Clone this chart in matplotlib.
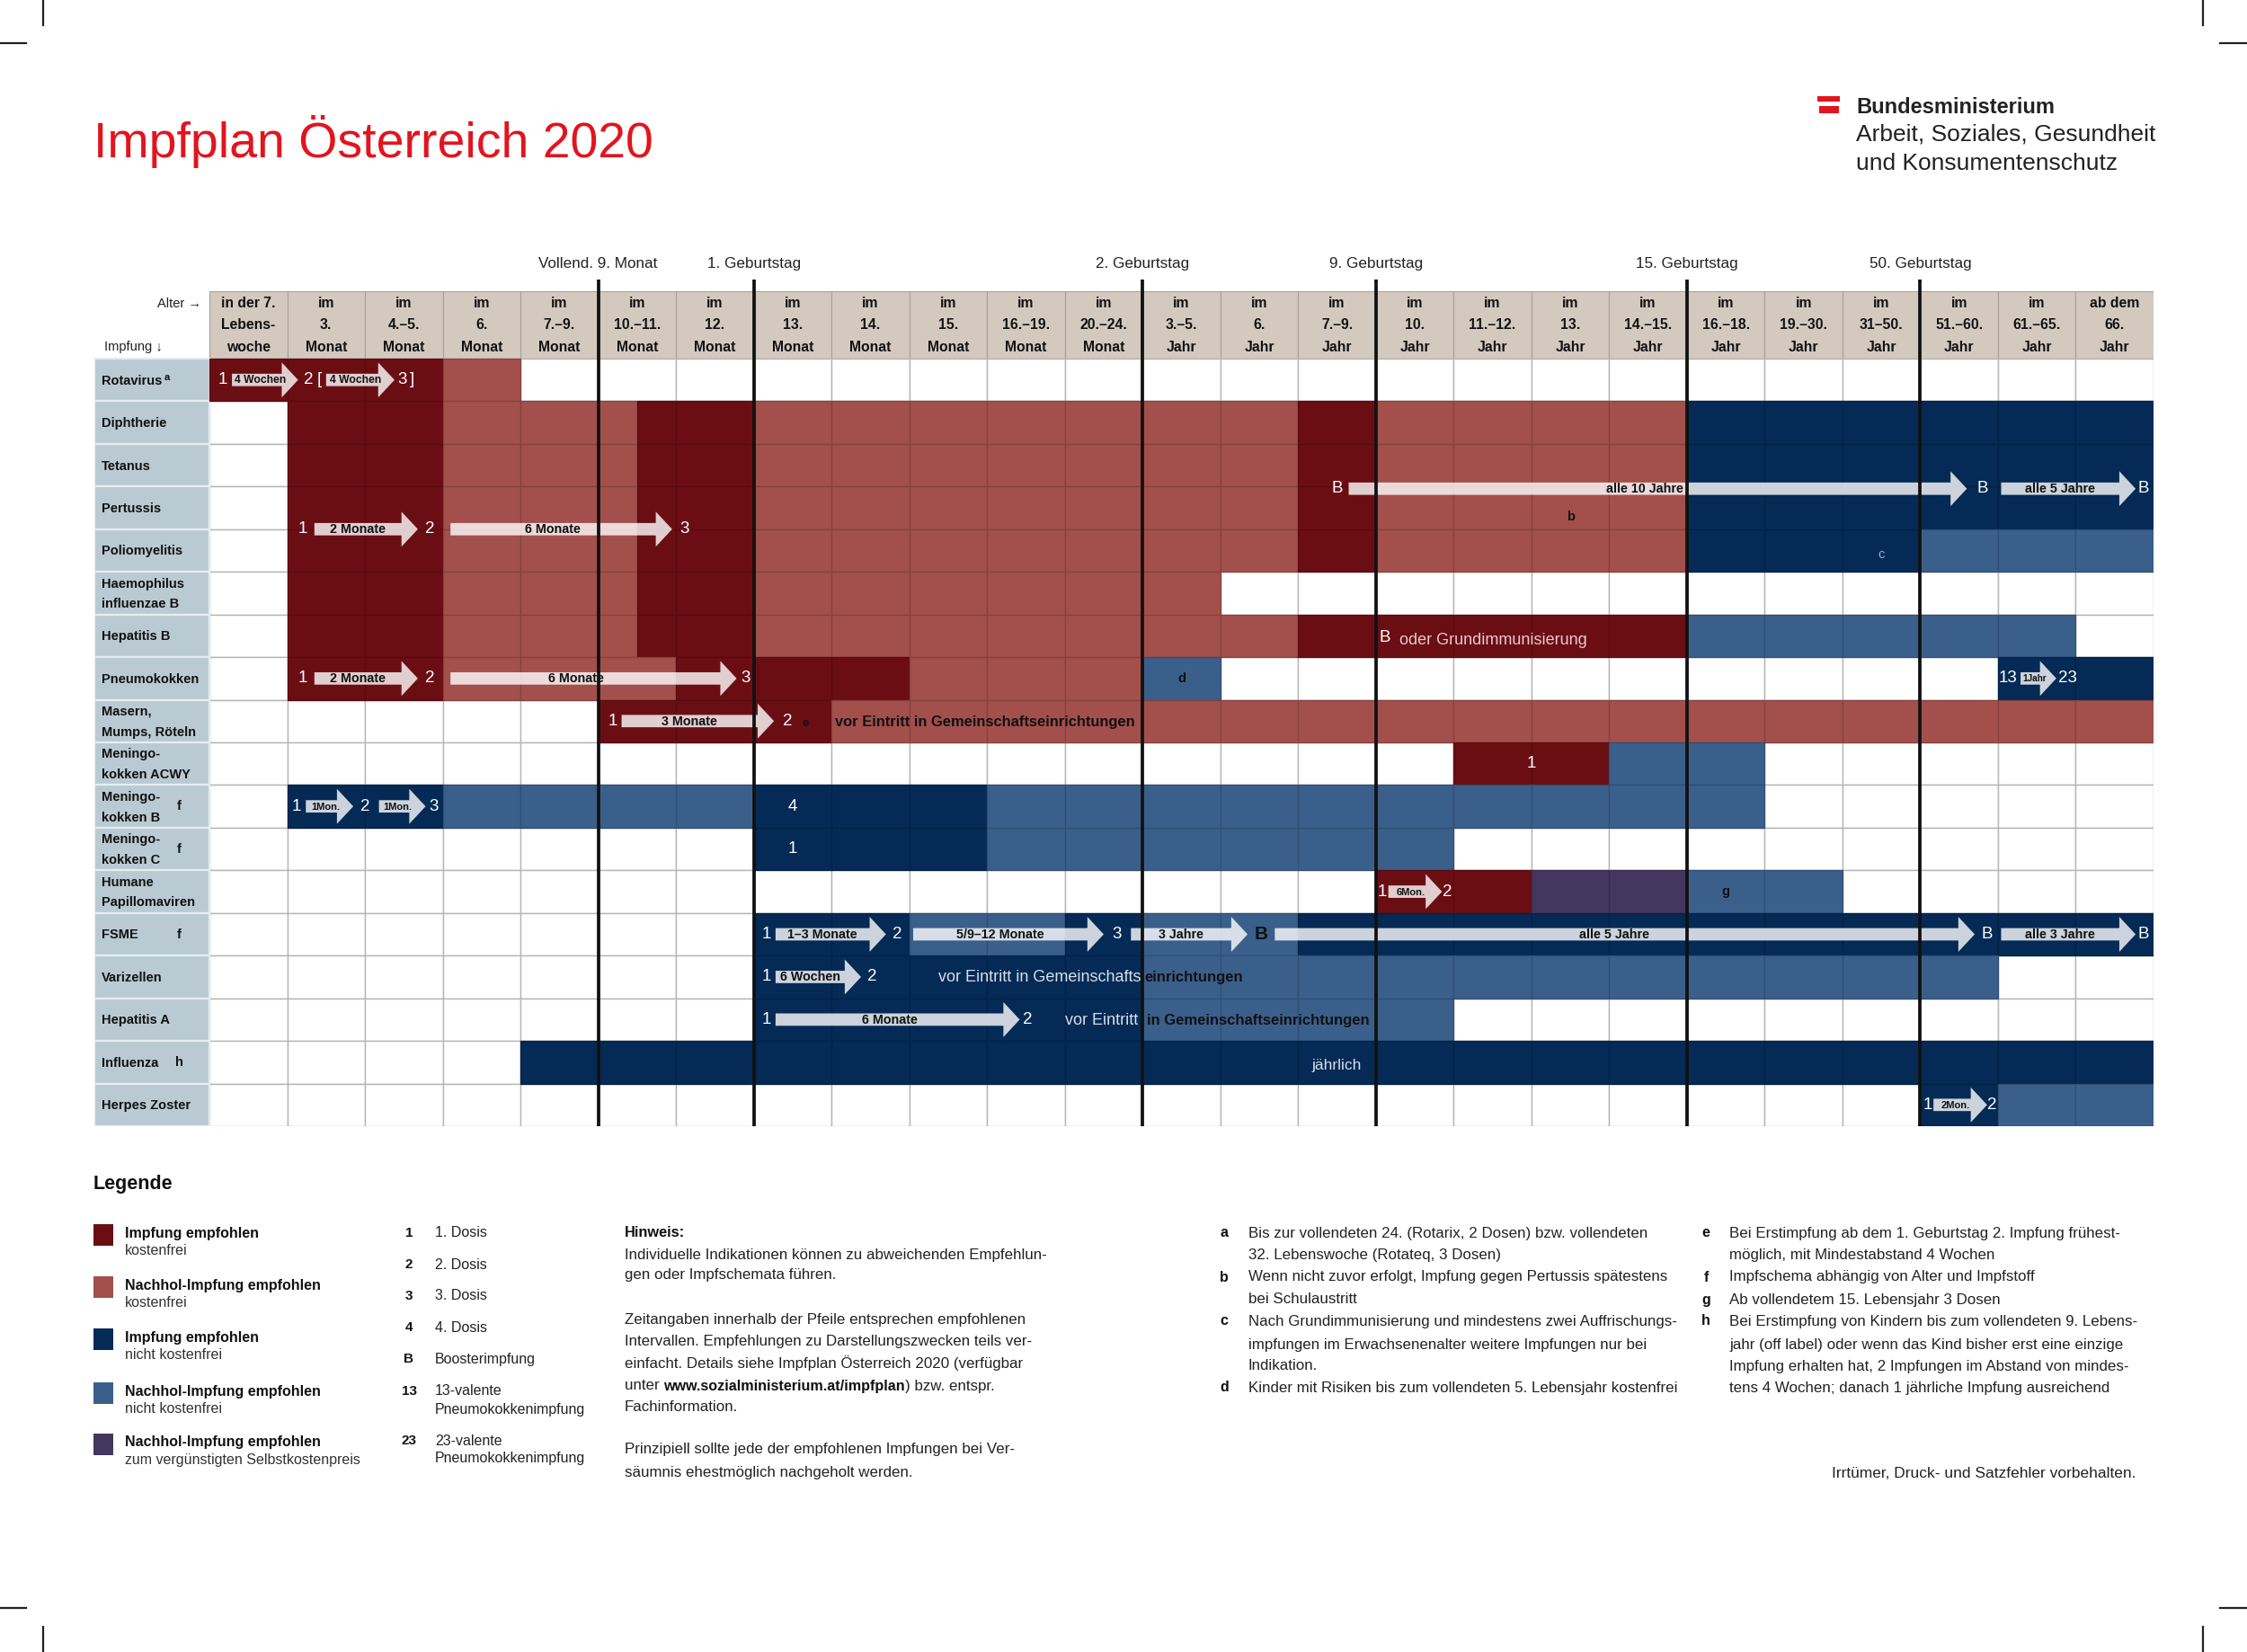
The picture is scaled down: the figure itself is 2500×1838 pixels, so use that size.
import numpy as np
import matplotlib
matplotlib.use("Agg")
import matplotlib.pyplot as plt
from matplotlib.patches import Rectangle, Polygon
from matplotlib.lines import Line2D
from matplotlib.text import Annotation
from matplotlib import font_manager as fm
from matplotlib.colors import to_rgb

# ------------------------------------------------------------------ data
age_groups = [
    ("in der 7.", "Lebens-", "woche"), ("im", "3.", "Monat"), ("im", "4.–5.", "Monat"),
    ("im", "6.", "Monat"), ("im", "7.–9.", "Monat"), ("im", "10.–11.", "Monat"),
    ("im", "12.", "Monat"), ("im", "13.", "Monat"), ("im", "14.", "Monat"),
    ("im", "15.", "Monat"), ("im", "16.–19.", "Monat"), ("im", "20.–24.", "Monat"),
    ("im", "3.–5.", "Jahr"), ("im", "6.", "Jahr"), ("im", "7.–9.", "Jahr"),
    ("im", "10.", "Jahr"), ("im", "11.–12.", "Jahr"), ("im", "13.", "Jahr"),
    ("im", "14.–15.", "Jahr"), ("im", "16.–18.", "Jahr"), ("im", "19.–30.", "Jahr"),
    ("im", "31–50.", "Jahr"), ("im", "51.–60.", "Jahr"), ("im", "61.–65.", "Jahr"),
    ("ab dem", "66.", "Jahr"),
]
milestone_pos = [5, 7, 12, 15, 19, 22]
milestone_labels = ["Vollend. 9. Monat", "1. Geburtstag", "2. Geburtstag",
                    "9. Geburtstag", "15. Geburtstag", "50. Geburtstag"]

vaccines = ["Rotavirus", "Diphtherie", "Tetanus", "Pertussis", "Poliomyelitis",
            "Haemophilus\ninfluenzae B", "Hepatitis B", "Pneumokokken",
            "Masern,\nMumps, Röteln", "Meningo-\nkokken ACWY", "Meningo-\nkokken B",
            "Meningo-\nkokken C", "Humane\nPapillomaviren", "FSME", "Varizellen",
            "Hepatitis A", "Influenza", "Herpes Zoster"]
vaccine_notes = ["a", "", "", "", "", "", "", "", "", "", "f", "f", "", "f", "", "", "h", ""]

# R = Impfung empfohlen kostenfrei, r = Nachhol kostenfrei,
# B = Impfung empfohlen nicht kostenfrei, b = Nachhol nicht kostenfrei,
# p = Nachhol zum vergünstigten Selbstkostenpreis
schedule = [
    [(0, 3, "R"), (3, 4, "r")],
    [(1, 3, "R"), (3, 5.5, "r"), (5.5, 7, "R"), (7, 14, "r"), (14, 15, "R"), (15, 19, "r"), (19, 25, "B")],
    [(1, 3, "R"), (3, 5.5, "r"), (5.5, 7, "R"), (7, 14, "r"), (14, 15, "R"), (15, 19, "r"), (19, 25, "B")],
    [(1, 3, "R"), (3, 5.5, "r"), (5.5, 7, "R"), (7, 14, "r"), (14, 15, "R"), (15, 19, "r"), (19, 25, "B")],
    [(1, 3, "R"), (3, 5.5, "r"), (5.5, 7, "R"), (7, 14, "r"), (14, 15, "R"), (15, 19, "r"), (19, 22, "B"), (22, 25, "b")],
    [(1, 3, "R"), (3, 5.5, "r"), (5.5, 7, "R"), (7, 13, "r")],
    [(1, 3, "R"), (3, 5.5, "r"), (5.5, 7, "R"), (7, 14, "r"), (14, 19, "R"), (19, 24, "b")],
    [(1, 3, "R"), (3, 6, "r"), (6, 9, "R"), (9, 12, "r"), (12, 13, "b"), (23, 25, "B")],
    [(5, 8, "R"), (8, 25, "r")],
    [(16, 18, "R"), (18, 20, "b")],
    [(1, 3, "B"), (3, 7, "b"), (7, 10, "B"), (10, 20, "b")],
    [(7, 10, "B"), (10, 16, "b")],
    [(15, 17, "R"), (17, 19, "p"), (19, 21, "b")],
    [(7, 9, "B"), (9, 11, "b"), (11, 12, "B"), (12, 14, "b"), (14, 25, "B")],
    [(7, 12, "B"), (12, 23, "b")],
    [(7, 12, "B"), (12, 16, "b")],
    [(4, 25, "B")],
    [(22, 23, "B"), (23, 25, "b")],
]

# interval arrows: (row position, start, end, label)
arrows = [
    (0.5, 0.29, 1.14, "4 Wochen"), (0.5, 1.50, 2.38, "4 Wochen"),
    (4.0, 1.35, 2.68, "2 Monate"), (4.0, 3.10, 5.95, "6 Monate"),
    (3.05, 14.65, 22.60, "alle 10 Jahre"), (3.05, 23.04, 24.77, "alle 5 Jahre"),
    (7.5, 1.35, 2.68, "2 Monate"), (7.5, 3.10, 6.78, "6 Monate"), (7.5, 23.29, 23.75, "1Jahr"),
    (8.5, 5.30, 7.26, "3 Monate"),
    (10.5, 1.24, 1.85, "1Mon."), (10.5, 2.18, 2.78, "1Mon."),
    (12.5, 15.16, 15.85, "6Mon."),
    (13.5, 7.28, 8.70, "1–3 Monate"), (13.5, 9.05, 11.50, "5/9–12 Monate"),
    (13.5, 11.85, 13.35, "3 Jahre"), (13.5, 13.70, 22.70, "alle 5 Jahre"),
    (13.5, 23.04, 24.77, "alle 3 Jahre"),
    (14.5, 7.28, 8.38, "6 Wochen"),
    (15.5, 7.28, 10.42, "6 Monate"),
    (17.5, 22.17, 22.86, "2Mon."),
]
arrow_label_x = {4: (18.95, "right"), 7: (4.72, "center"), 16: (18.06, "center")}

# dose markers: (row position, x, text)
dose_marks = [
    (0.5, 0.17, "1"), (0.5, 1.28, "2"), (0.5, 1.41, "["), (0.5, 2.48, "3"), (0.5, 2.61, "]"),
    (4.0, 1.20, "1"), (4.0, 2.83, "2"), (4.0, 6.11, "3"),
    (3.05, 14.50, "B"), (3.05, 22.80, "B"), (3.05, 24.87, "B"),
    (6.55, 15.12, "B"),
    (7.5, 1.20, "1"), (7.5, 2.83, "2"), (7.5, 6.90, "3"), (7.5, 23.13, "13"), (7.5, 23.90, "23"),
    (8.5, 5.19, "1"), (8.5, 7.43, "2"),
    (9.5, 17.00, "1"),
    (10.5, 1.12, "1"), (10.5, 2.00, "2"), (10.5, 2.88, "3"), (10.5, 7.50, "4"),
    (11.5, 7.50, "1"),
    (12.5, 15.08, "1"), (12.5, 15.92, "2"),
    (13.5, 7.16, "1"), (13.5, 8.84, "2"), (13.5, 11.67, "3"), (13.5, 22.86, "B"), (13.5, 24.87, "B"),
    (14.5, 7.16, "1"), (14.5, 8.52, "2"),
    (15.5, 7.16, "1"), (15.5, 10.52, "2"),
    (17.5, 22.10, "1"), (17.5, 22.92, "2"),
]
# bold black markers inside the table: (x, row position, text, size)
black_marks = [(17.5, 3.72, "b", 10.5), (12.5, 7.5, "d", 10.5), (7.66, 8.55, "e", 9.5),
               (19.5, 12.5, "g", 10.5), (13.52, 13.5, "B", 15)]

legend_items = [("R", "Impfung empfohlen", "kostenfrei"),
                ("r", "Nachhol-Impfung empfohlen", "kostenfrei"),
                ("B", "Impfung empfohlen", "nicht kostenfrei"),
                ("b", "Nachhol-Impfung empfohlen", "nicht kostenfrei"),
                ("p", "Nachhol-Impfung empfohlen", "zum vergünstigten Selbstkostenpreis")]
symbol_keys = ["1", "2", "3", "4", "B", "13", "23"]
symbol_texts = ["1. Dosis", "2. Dosis", "3. Dosis", "4. Dosis", "Boosterimpfung",
                "13-valente\nPneumokokkenimpfung", "23-valente\nPneumokokkenimpfung"]
hinweis_lines = ["Individuelle Indikationen können zu abweichenden Empfehlun-",
                 "gen oder Impfschemata führen.",
                 "Zeitangaben innerhalb der Pfeile entsprechen empfohlenen",
                 "Intervallen. Empfehlungen zu Darstellungszwecken teils ver-",
                 "einfacht. Details siehe Impfplan Österreich 2020 (verfügbar",
                 None,
                 "Fachinformation.",
                 "Prinzipiell sollte jede der empfohlenen Impfungen bei Ver-",
                 "säumnis ehestmöglich nachgeholt werden."]
footnotes_left = [("a", ["Bis zur vollendeten 24. (Rotarix, 2 Dosen) bzw. vollendeten",
                         "32. Lebenswoche (Rotateq, 3 Dosen)"]),
                  ("b", ["Wenn nicht zuvor erfolgt, Impfung gegen Pertussis spätestens",
                         "bei Schulaustritt"]),
                  ("c", ["Nach Grundimmunisierung und mindestens zwei Auffrischungs-",
                         "impfungen im Erwachsenenalter weitere Impfungen nur bei",
                         "Indikation."]),
                  ("d", ["Kinder mit Risiken bis zum vollendeten 5. Lebensjahr kostenfrei"])]
footnotes_right = [("e", ["Bei Erstimpfung ab dem 1. Geburtstag 2. Impfung frühest-",
                          "möglich, mit Mindestabstand 4 Wochen"]),
                   ("f", ["Impfschema abhängig von Alter und Impfstoff"]),
                   ("g", ["Ab vollendetem 15. Lebensjahr 3 Dosen"]),
                   ("h", ["Bei Erstimpfung von Kindern bis zum vollendeten 9. Lebens-",
                          "jahr (off label) oder wenn das Kind bisher erst eine einzige",
                          "Impfung erhalten hat, 2 Impfungen im Abstand von mindes-",
                          "tens 4 Wochen; danach 1 jährliche Impfung ausreichend"])]

# ------------------------------------------------------------------ style
avail = {f.name for f in fm.fontManager.ttflist}
BASE = "Liberation Sans" if "Liberation Sans" in avail else "DejaVu Sans"
NARROW = "Liberation Sans Narrow" if "Liberation Sans Narrow" in avail else BASE
NS = 1.15 if NARROW != BASE else 1.0
plt.rcParams["font.family"] = [BASE, "DejaVu Sans"]

COLORS = {"R": "#6B0E14", "r": "#A34F4B", "B": "#042A55", "b": "#3B5F8B", "p": "#44365F"}
LABEL_BG = "#B9CAD3"
HEADER_BG = "#D4C9BF"
GRID = "#B5B5B5"
TITLE_RED = "#E2141E"
LIGHT_TXT = "#D8DEEA"
TXT = "#222222"


def darker(c, f=0.82):
    r, g, b = to_rgb(c)
    return (r * f, g * f, b * f)


W_PX, H_PX = 2500, 1838
fig = plt.figure(figsize=(25, 18.38), dpi=100)
fig.patch.set_facecolor("white")


def fx(x):
    return x / W_PX


def fy(y):
    return 1 - y / H_PX


# table axes: x in age-column units, y in vaccine-row units
TAB_L, TAB_R, GRID_L = 105, 2396, 233
ROW_TOP, ROW_BOT = 399, 1253
ncol, nrow = len(age_groups), len(vaccines)
cw = (TAB_R - GRID_L) / ncol
rh = (ROW_BOT - ROW_TOP) / nrow
Y_TOP = -2.6
X_LEFT = (TAB_L - GRID_L) / cw
ax = fig.add_axes([fx(TAB_L), fy(ROW_BOT), (TAB_R - TAB_L) / W_PX,
                   (ROW_BOT - (ROW_TOP + Y_TOP * rh)) / H_PX])
ax.set_xlim(X_LEFT, ncol)
ax.set_ylim(nrow, Y_TOP)
ax.axis("off")

HDR = 1.58
# header
for c, lines in enumerate(age_groups):
    ax.add_patch(Rectangle((c, -HDR), 1, HDR, fc=HEADER_BG, ec="#A7A19B", lw=0.8, zorder=1))
    for k, t in enumerate(lines):
        ax.text(c + 0.5, [-1.29, -0.78, -0.27][k], t, ha="center", va="center",
                fontsize=11.3 * NS, fontweight="bold", family=NARROW, color="#111", zorder=3)
ax.text(-0.1, -1.29, "Alter →", ha="right", va="center", fontsize=10.5, color=TXT)
ax.text(X_LEFT + 0.13, -0.27, "Impfung ↓", ha="left", va="center", fontsize=10.5, color=TXT)

# white grid
for r in range(nrow):
    for c in range(ncol):
        ax.add_patch(Rectangle((c, r), 1, 1, fc="white", ec=GRID, lw=1.0, zorder=1))
# coloured schedule
for r, segs in enumerate(schedule):
    for (s, e, k) in segs:
        col = COLORS[k]
        for c in range(int(np.floor(s)), int(np.ceil(e))):
            a, b = max(c, s), min(c + 1, e)
            ax.add_patch(Rectangle((a, r), b - a, 1, fc=col, ec=darker(col), lw=0.9, zorder=2))

# row labels
for r, name in enumerate(vaccines):
    ax.add_patch(Rectangle((X_LEFT, r), -X_LEFT, 1, fc=LABEL_BG, ec="#E6EDF1", lw=1.6, zorder=1))
    parts = name.split("\n")
    ys = [r + 0.52] if len(parts) == 1 else [r + 0.28, r + 0.76]
    txt = None
    for p, yy in zip(parts, ys):
        txt = ax.text(X_LEFT + 0.09, yy, p, ha="left", va="center", fontsize=10.5 * NS,
                      fontweight="bold", family=NARROW, color="#111", zorder=3)
    note = vaccine_notes[r]
    if note == "a":
        ax.annotate(note, xy=(1, 1), xycoords=txt, xytext=(2, 1), textcoords="offset points",
                    ha="left", va="top", fontsize=8, fontweight="bold", color="#111", zorder=3)
    elif note:
        ax.text(-0.39, r + 0.5, note, ha="center", va="center", fontsize=10.5,
                fontweight="bold", color="#111", zorder=3)

# arrows
HB, HH, HL = 0.145, 0.41, 0.21
for i, (y, x0, x1, lab) in enumerate(arrows):
    pts = [(x0, y - HB), (x1 - HL, y - HB), (x1 - HL, y - HH), (x1, y),
           (x1 - HL, y + HH), (x1 - HL, y + HB), (x0, y + HB)]
    ax.add_patch(Polygon(pts, closed=True, fc="white", alpha=0.8, ec="none", zorder=4))
    length = x1 - x0
    if length < 0.5:
        fs, shift = 7.2, 0.06
    elif length < 0.75:
        fs, shift = 8.0, 0.05
    elif length < 1.0:
        fs, shift = 8.7, 0.04
    else:
        fs, shift = 10.3, 0.0
    lx, ha = arrow_label_x.get(i, ((x0 + x1 - HL) / 2 + shift, "center"))
    ax.text(lx, y + 0.01, lab, ha=ha, va="center", fontsize=fs * NS, fontweight="bold",
            family=NARROW, color="#111", zorder=5)

# dose numbers
for (y, x, t) in dose_marks:
    ax.text(x, y, t, ha="center", va="center", fontsize=13.5 * NS, family=NARROW,
            color="white", zorder=5)
for (x, y, t, s) in black_marks:
    ax.text(x, y, t, ha="center", va="center", fontsize=s, fontweight="bold",
            color="#111", zorder=5)
ax.text(21.5, 4.6, "c", ha="center", va="center", fontsize=10.5, color="#9DB1CE", zorder=5)

# text notes inside table
ax.text(8.04, 8.52, "vor Eintritt in Gemeinschaftseinrichtungen", ha="left", va="center",
        fontsize=11.9 * NS, fontweight="bold", family=NARROW, color="#111", zorder=5)
ax.text(11.98, 14.52, "vor Eintritt in Gemeinschafts", ha="right", va="center",
        fontsize=13, color=LIGHT_TXT, zorder=5)
ax.text(12.02, 14.52, "einrichtungen", ha="left", va="center", fontsize=12 * NS,
        fontweight="bold", family=NARROW, color="#111", zorder=5)
ax.text(11.94, 15.52, "vor Eintritt", ha="right", va="center", fontsize=13,
        color=LIGHT_TXT, zorder=5)
ax.text(12.06, 15.52, "in Gemeinschaftseinrichtungen", ha="left", va="center",
        fontsize=12 * NS, fontweight="bold", family=NARROW, color="#111", zorder=5)
ax.text(15.30, 6.6, "oder Grundimmunisierung", ha="left", va="center", fontsize=13,
        color="#E8CACA", zorder=5)
ax.text(14.5, 16.58, "jährlich", ha="center", va="center", fontsize=12.5,
        color=LIGHT_TXT, zorder=5)

# milestone lines
ax.vlines(milestone_pos, -1.86, nrow, colors="#111111", lw=2.7, zorder=6)
for x, lab in zip(milestone_pos, milestone_labels):
    ax.text(x, -2.23, lab, ha="center", va="center", fontsize=12.3, color=TXT, zorder=6)

# ------------------------------------------------------------------ page elements
fig.text(fx(104), fy(175), "Impfplan Österreich 2020", fontsize=40, color=TITLE_RED,
         ha="left", va="baseline")

fig.add_artist(Rectangle((fx(2022), fy(113)), 25 / W_PX, 6 / H_PX, transform=fig.transFigure,
                         fc=TITLE_RED, ec="none"))
fig.add_artist(Rectangle((fx(2024), fy(126)), 22 / W_PX, 8 / H_PX, transform=fig.transFigure,
                         fc=TITLE_RED, ec="none"))
fig.text(fx(2065), fy(126), "Bundesministerium", fontsize=17, fontweight="bold",
         color=TXT, ha="left", va="baseline")
fig.text(fx(2065), fy(157), "Arbeit, Soziales, Gesundheit", fontsize=19, color=TXT,
         ha="left", va="baseline")
fig.text(fx(2065), fy(189), "und Konsumentenschutz", fontsize=19, color=TXT,
         ha="left", va="baseline")

# crop marks
for (xa, ya, xb, yb) in [(48, 0, 48, 28), (0, 48, 29, 48), (2451, 0, 2451, 28),
                         (2470, 48, 2500, 48), (48, 1810, 48, 1838), (0, 1789, 29, 1789),
                         (2451, 1810, 2451, 1838), (2470, 1789, 2500, 1789)]:
    fig.add_artist(Line2D([fx(xa), fx(xb)], [fy(ya), fy(yb)], transform=fig.transFigure,
                          color=TXT, lw=1.6))

# legend
fig.text(fx(104), fy(1318), "Legende", fontsize=15.5, fontweight="bold", color="#111",
         ha="left", va="center")
leg_y = [1372, 1430, 1488, 1548, 1605]
for (k, t1, t2), yy in zip(legend_items, leg_y):
    fig.add_artist(Rectangle((fx(104), fy(yy + 14)), 22 / W_PX, 24 / H_PX,
                             transform=fig.transFigure, fc=COLORS[k], ec="none"))
    fig.text(fx(139), fy(yy), t1, fontsize=11.5, fontweight="bold", color="#111",
             ha="left", va="center")
    fig.text(fx(139), fy(yy + 20), t2, fontsize=11.5, color="#333", ha="left", va="center")

sym_y = [1372, 1407, 1442, 1477, 1512, 1548, 1603]
for key, txt, yy in zip(symbol_keys, symbol_texts, sym_y):
    fig.text(fx(455), fy(yy), key, fontsize=11, fontweight="bold", color="#111",
             ha="center", va="center")
    for j, line in enumerate(txt.split("\n")):
        fig.text(fx(484), fy(yy + 20 * j), line, fontsize=11.5, color=TXT,
                 ha="left", va="center")

FS = 12.2
fig.text(fx(695), fy(1372), "Hinweis:", fontsize=11.8, fontweight="bold", color="#111",
         ha="left", va="center")
hin_y = [1397, 1418, 1469, 1492, 1517, 1542, 1566, 1613, 1638]
for line, yy in zip(hinweis_lines, hin_y):
    if line is None:
        t1 = fig.text(fx(695), fy(yy), "unter ", fontsize=FS, color=TXT,
                      ha="left", va="center")
        t2 = Annotation("www.sozialministerium.at/impfplan", xy=(1, 0.5), xycoords=t1,
                        ha="left", va="center", fontsize=FS - 0.6, fontweight="bold",
                        color="#111")
        fig.add_artist(t2)
        t3 = Annotation(") bzw. entspr.", xy=(1, 0.5), xycoords=t2, ha="left", va="center",
                        fontsize=FS, color=TXT)
        fig.add_artist(t3)
    else:
        fig.text(fx(695), fy(yy), line, fontsize=FS, color=TXT, ha="left", va="center")

fn_left_y = [[1372, 1397], [1421, 1446], [1470, 1496, 1520], [1544]]
for (letter, lines), ys in zip(footnotes_left, fn_left_y):
    fig.text(fx(1362), fy(ys[0]), letter, fontsize=11.5, fontweight="bold", color="#111",
             ha="center", va="center")
    for line, yy in zip(lines, ys):
        fig.text(fx(1389), fy(yy), line, fontsize=FS, color=TXT, ha="left", va="center")
fn_right_y = [[1372, 1397], [1421], [1446], [1470, 1496, 1520, 1544]]
for (letter, lines), ys in zip(footnotes_right, fn_right_y):
    fig.text(fx(1898), fy(ys[0]), letter, fontsize=11.5, fontweight="bold", color="#111",
             ha="center", va="center")
    for line, yy in zip(lines, ys):
        fig.text(fx(1924), fy(yy), line, fontsize=FS, color=TXT, ha="left", va="center")

fig.text(fx(2376), fy(1640), "Irrtümer, Druck- und Satzfehler vorbehalten.", fontsize=12.5,
         color=TXT, ha="right", va="center")

fig.savefig("out.png", dpi=100, facecolor="white")
